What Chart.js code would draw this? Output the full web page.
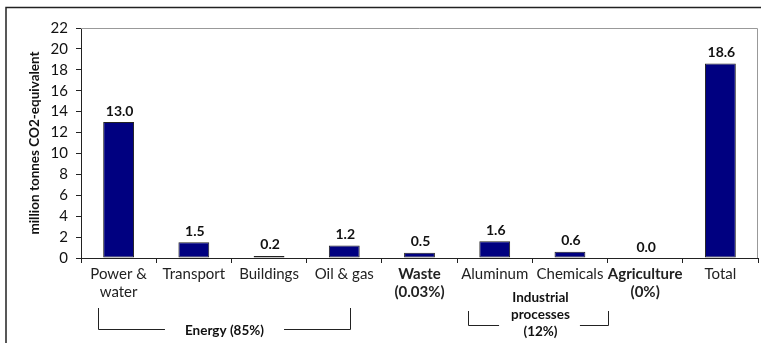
<!DOCTYPE html>
<html>
<head>
<meta charset="utf-8">
<script src="https://cdn.jsdelivr.net/npm/chart.js@4/dist/chart.umd.min.js"></script>
<style>
  html, body { margin: 0; padding: 0; background: #fff; }
  #wrap { width: 761px; height: 343px; position: relative; }
</style>
</head>
<body>
<div id="wrap"><canvas id="chart"></canvas></div>
<script>
// ── DATA ──
const categories = [['Power &', 'water'], 'Transport', 'Buildings', 'Oil & gas', ['Waste', '(0.03%)'], 'Aluminum', 'Chemicals', ['Agriculture', '(0%)'], 'Total'];
const emissions  = [13.0, 1.5, 0.2, 1.2, 0.5, 1.6, 0.6, 0.0, 18.6];
const boldCategories = [4, 7];           // sector totals shown in bold
const yMax  = 22;
const yStep = 2;
const energyGroup     = { lines: ['Energy (85%)'], from: 0, to: 3 };
const industrialGroup = { lines: ['Industrial', 'processes', '(12%)'], from: 5, to: 6 };

const FONT = "Lato, 'Open Sans', sans-serif";
const navy = '#000080';

// ── FRAME + PLOT BORDER ──
const framePlugin = {
  id: 'frame',
  afterDraw(chart) {
    const { ctx, chartArea: a } = chart;
    ctx.save();
    // outer frame (top + left)
    ctx.strokeStyle = '#222';
    ctx.lineWidth = 1.5;
    ctx.beginPath();
    ctx.moveTo(6, 343); ctx.lineTo(6, 7.5); ctx.lineTo(761, 7.5);
    ctx.stroke();
    // plot box top + right
    ctx.strokeStyle = '#999';
    ctx.lineWidth = 1;
    ctx.beginPath();
    ctx.moveTo(a.left, a.top + 0.5); ctx.lineTo(a.right - 0.5, a.top + 0.5); ctx.lineTo(a.right - 0.5, a.bottom);
    ctx.stroke();
    ctx.restore();
  }
};

// ── VALUE LABELS ABOVE BARS ──
const valueLabels = {
  id: 'valueLabels',
  afterDatasetsDraw(chart) {
    const { ctx } = chart;
    const meta = chart.getDatasetMeta(0);
    ctx.save();
    ctx.font = 'bold 14px ' + FONT;
    ctx.fillStyle = '#111';
    ctx.textAlign = 'center';
    ctx.textBaseline = 'bottom';
    meta.data.forEach((bar, i) => {
      ctx.fillText(emissions[i].toFixed(1), bar.x + 1, bar.y - 4);
    });
    ctx.restore();
  }
};

// ── GROUP BRACKETS UNDER AXIS ──
const groupBrackets = {
  id: 'groupBrackets',
  afterDraw(chart) {
    const { ctx } = chart;
    const x = chart.scales.x;
    const w = x.getPixelForValue(1) - x.getPixelForValue(0);
    ctx.save();
    ctx.strokeStyle = '#222';
    ctx.lineWidth = 1;
    ctx.fillStyle = '#111';
    ctx.font = 'bold 13.5px ' + FONT;
    ctx.textAlign = 'center';
    ctx.textBaseline = 'middle';

    // Energy
    let l = Math.round(x.getPixelForValue(energyGroup.from) - 0.28 * w) + 0.5;
    let r = Math.round(x.getPixelForValue(energyGroup.to) + 0.08 * w) + 0.5;
    let cx = (l + r) / 2;
    let tw = ctx.measureText(energyGroup.lines[0]).width;
    ctx.beginPath();
    ctx.moveTo(l, 308); ctx.lineTo(l, 329.5); ctx.lineTo(cx - tw / 2 - 20, 329.5);
    ctx.moveTo(cx + tw / 2 + 20, 329.5); ctx.lineTo(r, 329.5); ctx.lineTo(r, 308);
    ctx.stroke();
    ctx.fillText(energyGroup.lines[0], cx, 331);

    // Industrial processes
    l = Math.round(x.getPixelForValue(industrialGroup.from) - 0.36 * w) + 0.5;
    r = Math.round(x.getPixelForValue(industrialGroup.to) + 0.5 * w) + 0.5;
    cx = (l + r) / 2 + 2;
    tw = ctx.measureText('processes').width;
    ctx.beginPath();
    ctx.moveTo(l, 311); ctx.lineTo(l, 325.5); ctx.lineTo(cx - tw / 2 - 12, 325.5);
    ctx.moveTo(cx + tw / 2 + 10, 325.5); ctx.lineTo(r, 325.5); ctx.lineTo(r, 311);
    ctx.stroke();
    industrialGroup.lines.forEach((t, i) => ctx.fillText(t, cx, 298 + i * 17));
    ctx.restore();
  }
};

new Chart(document.getElementById('chart'), {
  type: 'bar',
  data: {
    labels: categories,
    datasets: [{
      data: emissions,
      backgroundColor: navy,
      borderColor: '#222',
      borderWidth: 1,
      borderSkipped: false,
      barPercentage: 0.41,
      categoryPercentage: 1
    }]
  },
  options: {
    responsive: true,
    maintainAspectRatio: false,
    animation: false,
    layout: { padding: { left: 7, top: 28, right: 3, bottom: 0 } },
    plugins: { legend: { display: false }, tooltip: { enabled: false } },
    scales: {
      x: {
        afterFit: (s) => { s.height = 85; },
        grid: { display: true, drawOnChartArea: false, drawTicks: true, tickLength: 5, color: '#222', offset: true },
        border: { color: '#222', width: 1 },
        ticks: {
          autoSkip: false,
          maxRotation: 0,
          padding: 2,
          color: '#222',
          font: (c) => ({
            family: FONT,
            size: 15,
            lineHeight: 1.22,
            weight: boldCategories.includes(c.index) ? 'bold' : 'normal'
          })
        }
      },
      y: {
        min: 0,
        max: yMax,
        afterFit: (s) => { s.width = 74; },
        grid: { display: true, drawOnChartArea: false, drawTicks: true, tickLength: 5, color: '#222' },
        border: { color: '#222', width: 1 },
        ticks: { stepSize: yStep, autoSkip: false, padding: 8, color: '#111', font: { family: FONT, size: 15, lineHeight: 1 } },
        title: {
          display: true,
          text: 'million tonnes CO2-equivalent',
          color: '#111',
          font: { family: FONT, size: 13.5, weight: 'bold' },
          padding: { top: 20, bottom: 0 }
        }
      }
    }
  },
  plugins: [framePlugin, valueLabels, groupBrackets]
});
</script>
</body>
</html>
